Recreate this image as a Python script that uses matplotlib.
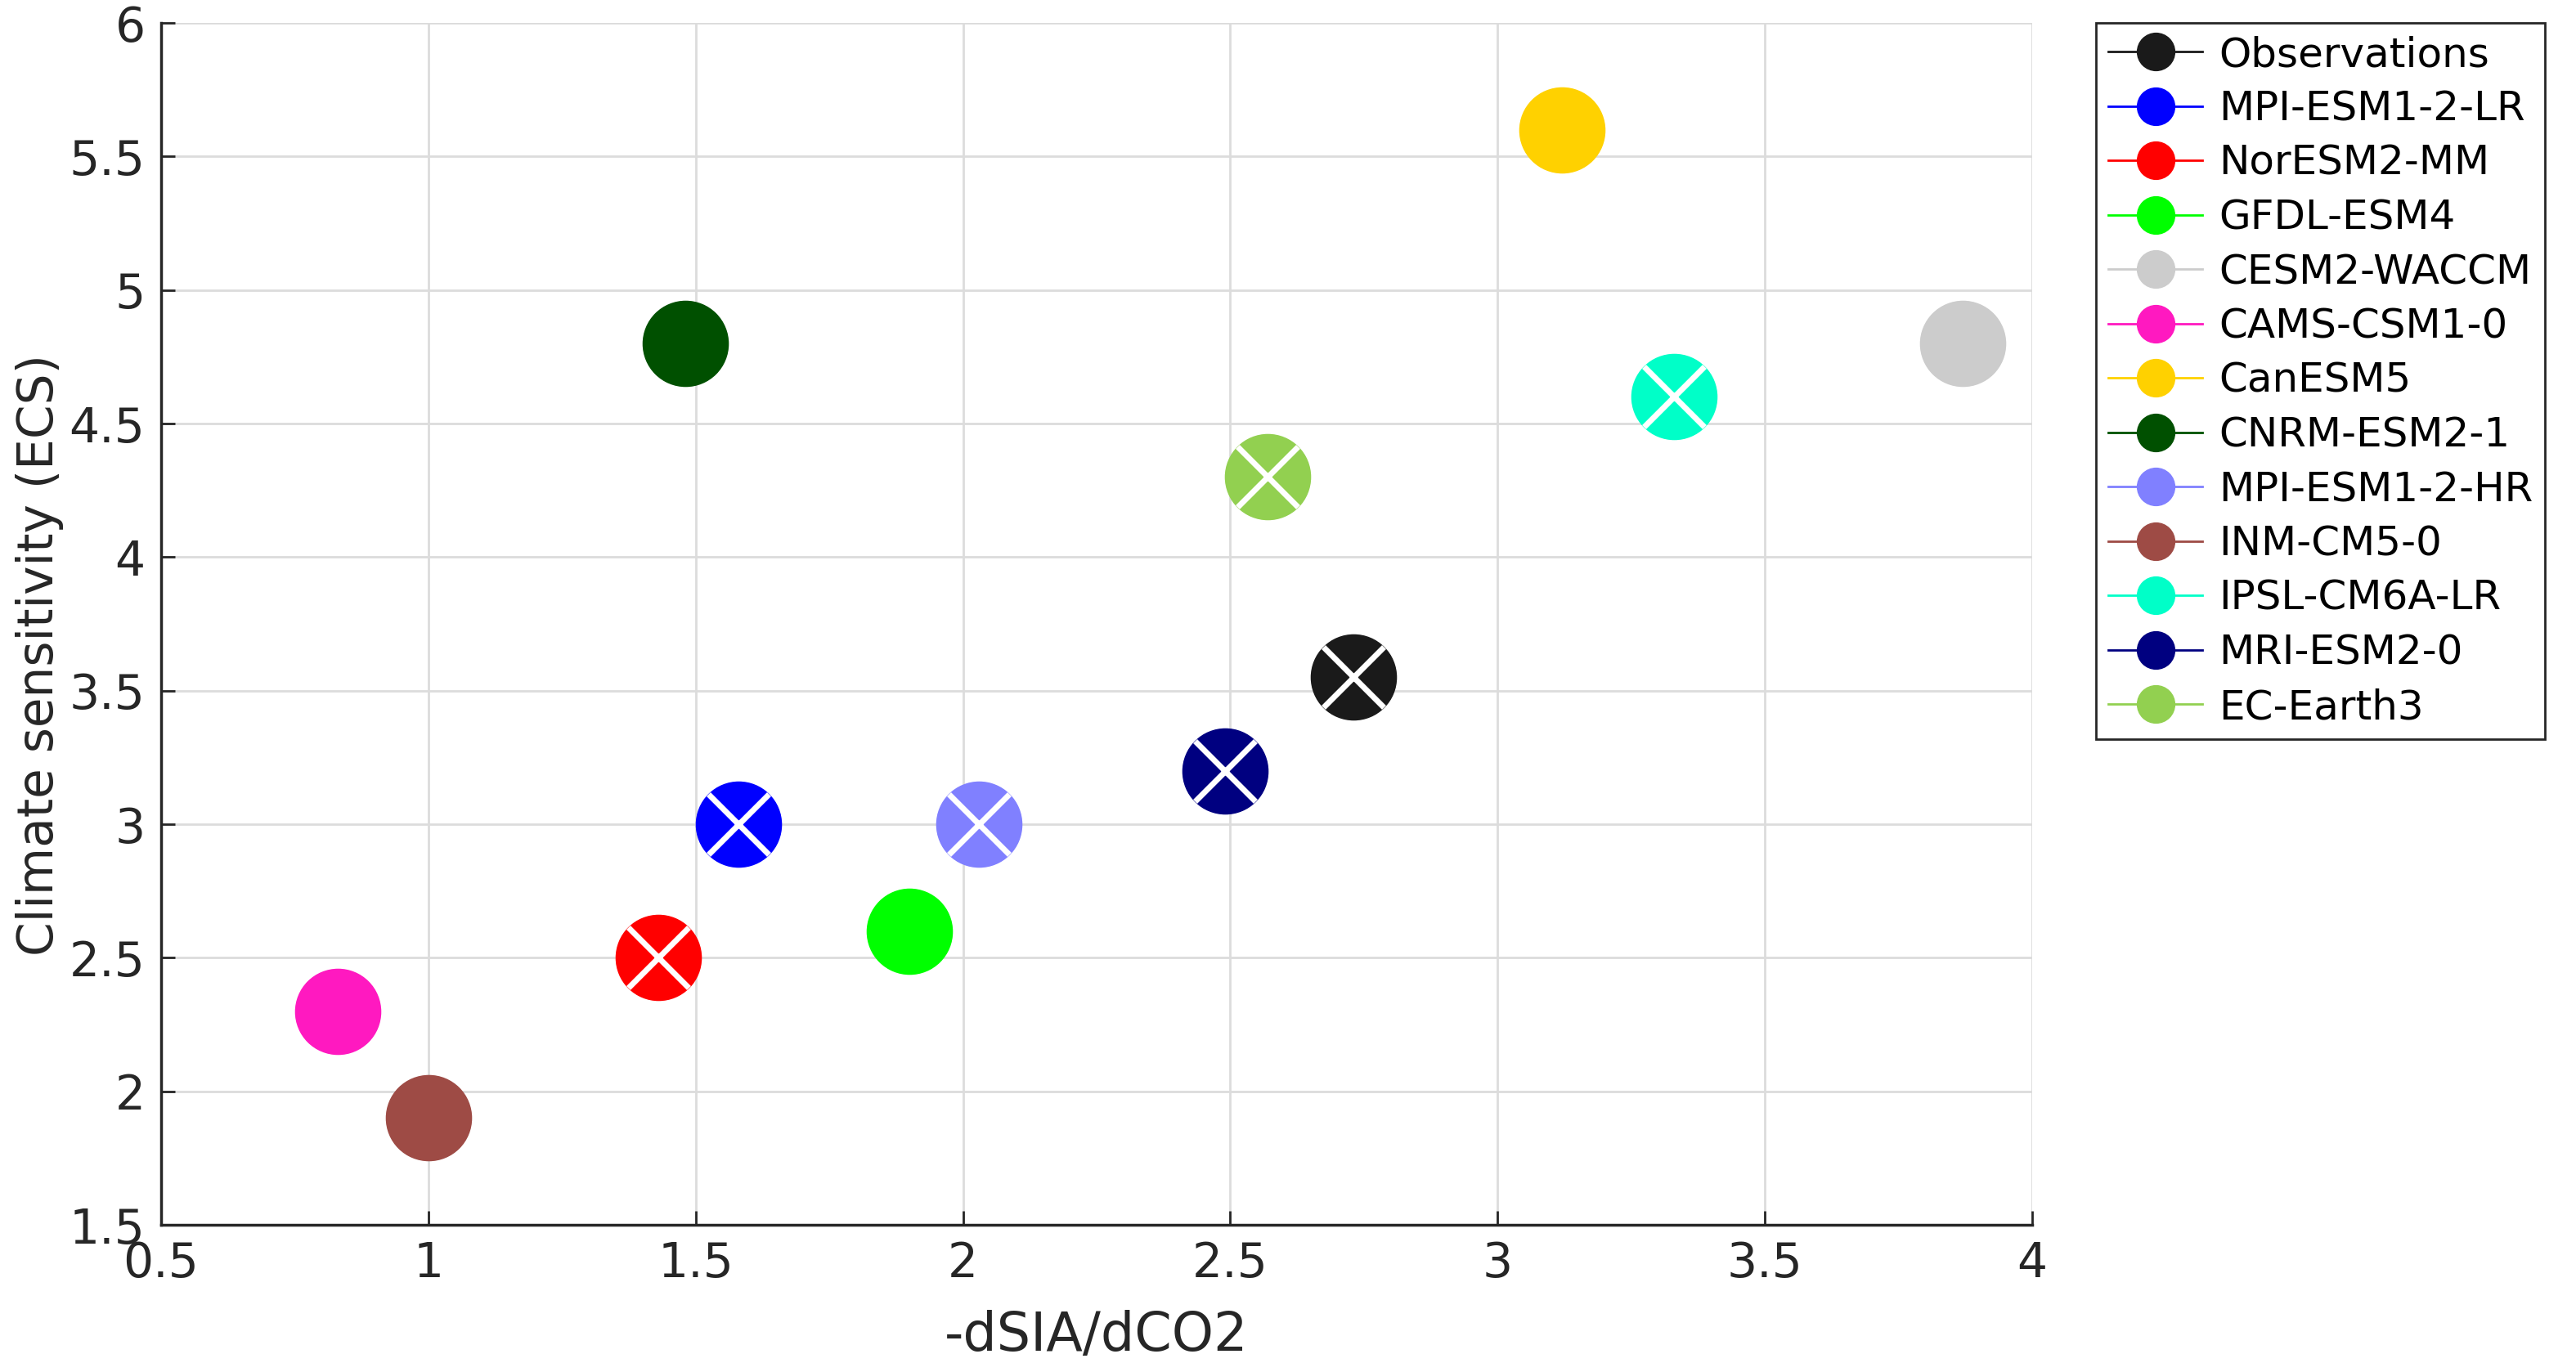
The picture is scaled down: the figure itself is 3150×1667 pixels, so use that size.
import numpy as np
import matplotlib.pyplot as plt

# models, x = -dSIA/dCO2, y = ECS
names = ['Observations', 'MPI-ESM1-2-LR', 'NorESM2-MM', 'GFDL-ESM4', 'CESM2-WACCM',
         'CAMS-CSM1-0', 'CanESM5', 'CNRM-ESM2-1', 'MPI-ESM1-2-HR', 'INM-CM5-0',
         'IPSL-CM6A-LR', 'MRI-ESM2-0', 'EC-Earth3']
dsia = [2.73, 1.58, 1.43, 1.90, 3.87, 0.83, 3.12, 1.48, 2.03, 1.00, 3.33, 2.49, 2.57]
ecs = [3.55, 3.0, 2.5, 2.6, 4.8, 2.3, 5.6, 4.8, 3.0, 1.9, 4.6, 3.2, 4.3]
crossed = [True, True, True, False, False, False, False, False, True, False, True, True, True]
colors = ['#1a1a1a', '#0000ff', '#ff0000', '#00ff00', '#cccccc', '#ff19c0', '#ffd100',
          '#005000', '#8080ff', '#9e4b45', '#00ffc8', '#000080', '#92d050']

fig = plt.figure(figsize=(31.5, 16.67), dpi=100)
ax = fig.add_axes([197/3150, 1-1498/1667, (2485-197)/3150, (1498-28)/1667])

for i in range(len(names)):
    ax.plot(dsia[i], ecs[i], '-o', color=colors[i], markersize=75, linewidth=2,
            label=names[i], zorder=3)
    if crossed[i]:
        ax.plot(dsia[i], ecs[i], 'x', color='white', markersize=53,
                markeredgewidth=5, zorder=4)

ax.set_xlim(0.5, 4)
ax.set_ylim(1.5, 6)
ax.set_xticks(np.arange(0.5, 4.01, 0.5))
ax.set_yticks(np.arange(1.5, 6.01, 0.5))
ax.set_xticklabels(['0.5', '1', '1.5', '2', '2.5', '3', '3.5', '4'])
ax.set_yticklabels(['1.5', '2', '2.5', '3', '3.5', '4', '4.5', '5', '5.5', '6'])
ax.tick_params(direction='in', length=12, width=2, labelsize=42, colors='#262626', pad=14)
ax.grid(True, color='#dcdcdc', linewidth=2)
ax.set_axisbelow(True)
for s in ['top', 'right']:
    ax.spines[s].set_visible(False)
for s in ['left', 'bottom']:
    ax.spines[s].set_linewidth(2.5)
    ax.spines[s].set_color('#262626')
ax.set_xlabel('-dSIA/dCO2', fontsize=47, color='#262626', labelpad=20)
ax.set_ylabel('Climate sensitivity (ECS)', fontsize=43, color='#262626')
ax.yaxis.set_label_coords(-0.052, 0.474)

leg = ax.legend(loc='upper left', bbox_to_anchor=(2563/3150, 1-28/1667),
                bbox_transform=fig.transFigure, borderaxespad=0, fontsize=36,
                markerscale=0.44, handlelength=2.3, handletextpad=0.4,
                labelspacing=0.37, borderpad=0.3, fancybox=False, framealpha=1,
                edgecolor='#262626')
leg.get_frame().set_linewidth(2)

plt.savefig('out.png', dpi=100)
